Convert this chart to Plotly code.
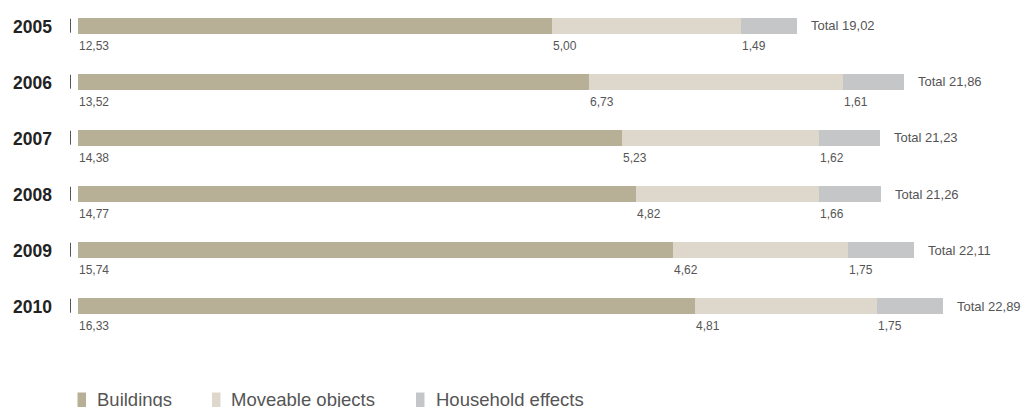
import plotly.graph_objects as go

years = ["2005", "2006", "2007", "2008", "2009", "2010"]
buildings = [12.53, 13.52, 14.38, 14.77, 15.74, 16.33]
moveable = [5.00, 6.73, 5.23, 4.82, 4.62, 4.81]
household = [1.49, 1.61, 1.62, 1.66, 1.75, 1.75]
totals = [19.02, 21.86, 21.23, 21.26, 22.11, 22.89]
series_names = ["Buildings", "Moveable objects", "Household effects"]
colors = ["#b8af97", "#ded8cc", "#c5c6c8"]

W, H = 1021, 407
ML, MR, MT, MB = 78, 36, 0, 67
PW = W - ML - MR
PH = H - MT - MB


def fmt(v):
    return f"{v:.2f}".replace(".", ",")


def px_to_paper_x(px):
    return (px - ML) / PW


def px_to_paper_y(py):
    return (H - MB - py) / PH


FONT = "Liberation Sans, Arial, Helvetica, sans-serif"
ypos = list(range(len(years)))

fig = go.Figure()
series = [buildings, moveable, household]
for name, vals, col in zip(series_names, series, colors):
    fig.add_trace(go.Bar(
        y=ypos, x=vals, name=name, orientation="h",
        marker=dict(color=col, line=dict(width=0)),
        width=0.28, showlegend=False, hoverinfo="skip",
    ))

annotations = []
shapes = []
for i, yr in enumerate(years):
    # year label
    annotations.append(dict(
        x=px_to_paper_x(54), xref="paper", y=i, yref="y",
        text=f"<b>{yr}</b>", showarrow=False, xanchor="right", yanchor="middle",
        yshift=-1, font=dict(family=FONT, size=17.5, color="#222222"),
    ))
    # small tick
    shapes.append(dict(
        type="line", xref="paper", yref="y",
        x0=px_to_paper_x(70.5), x1=px_to_paper_x(70.5),
        y0=i - 0.13, y1=i + 0.12,
        line=dict(color="#555555", width=1),
    ))
    # segment value labels
    start = 0.0
    for vals in series:
        v = vals[i]
        annotations.append(dict(
            x=start, xref="x", y=i, yref="y", text=fmt(v), showarrow=False,
            xanchor="left", yanchor="middle", yshift=-20, xshift=-1,
            font=dict(family=FONT, size=12, color="#555555"),
        ))
        start += v
    # total label
    annotations.append(dict(
        x=start, xref="x", y=i, yref="y", text=f"Total {fmt(totals[i])}",
        showarrow=False, xanchor="left", yanchor="middle", xshift=12,
        font=dict(family=FONT, size=13, color="#555555"),
    ))

# legend drawn manually
legend_sq_x = [77.5, 212, 416]
legend_tx_x = [96, 229.5, 435]
for name, col, sx, tx in zip(series_names, colors, legend_sq_x, legend_tx_x):
    shapes.append(dict(
        type="rect", xref="paper", yref="paper",
        x0=px_to_paper_x(sx), x1=px_to_paper_x(sx + 8.5),
        y0=px_to_paper_y(392.5), y1=px_to_paper_y(410),
        fillcolor=col, line=dict(width=0),
    ))
    annotations.append(dict(
        x=px_to_paper_x(tx), xref="paper", y=px_to_paper_y(387.5), yref="paper",
        text=name, showarrow=False, xanchor="left", yanchor="top",
        borderpad=0, font=dict(family=FONT, size=18.5, color="#555555"),
    ))

fig.update_layout(
    width=W, height=H,
    margin=dict(l=ML, r=MR, t=MT, b=MB),
    barmode="stack",
    plot_bgcolor="white", paper_bgcolor="white",
    xaxis=dict(range=[0, PW / 37.8], visible=False, showgrid=False, zeroline=False),
    yaxis=dict(range=[5.607, -0.464], visible=False,
               showgrid=False, zeroline=False),
    annotations=annotations, shapes=shapes,
    showlegend=False,
)

fig.write_html("out.html")
